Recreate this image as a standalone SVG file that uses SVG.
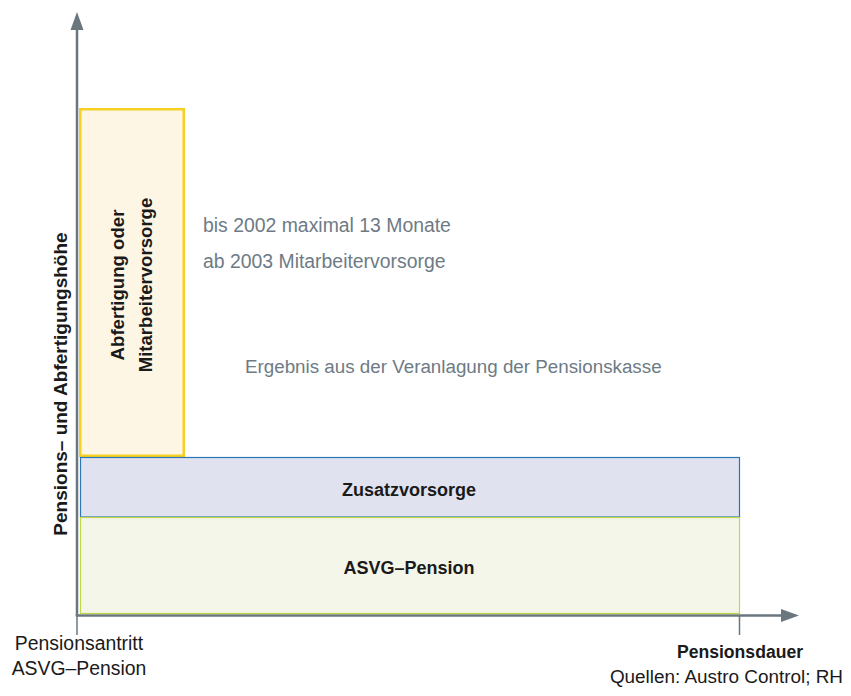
<svg xmlns="http://www.w3.org/2000/svg" width="851" height="696" viewBox="0 0 851 696">
<style>
.t{font-family:"Liberation Sans",Arial,sans-serif;fill:#1a1a1a}
.b{font-weight:bold}
.g{fill:#6e7b85}
.ax{stroke:#6b777f;fill:none}
</style>
<rect width="851" height="696" fill="#ffffff"/>
<g id="connectors">
<line class="ax" x1="77" y1="28" x2="77" y2="616" stroke-width="2.5"/>
<polygon points="77,12 70.5,30 83.5,30" fill="#6b777f"/>
<line class="ax" x1="77" y1="616" x2="77" y2="635" stroke-width="1.5"/>
<line class="ax" x1="75.8" y1="615.5" x2="783" y2="615.5" stroke-width="2.5"/>
<polygon points="799,615.5 781,609 781,622" fill="#6b777f"/>
<line class="ax" x1="739.5" y1="616" x2="739.5" y2="635" stroke-width="1.5"/>
</g>
<g id="abfertigung">
<rect x="80.25" y="109.25" width="103.5" height="346.5" fill="#fdf6e5" stroke="#f5d020" stroke-width="2.5"/>
<text class="t b" font-size="18.6" text-anchor="middle" transform="translate(123.5,285) rotate(-90)">Abfertigung oder</text>
<text class="t b" font-size="18.6" text-anchor="middle" transform="translate(151.5,285) rotate(-90)">Mitarbeitervorsorge</text>
</g>
<g id="zusatzvorsorge">
<rect x="80.5" y="457.5" width="659" height="59.5" fill="#e0e3ef" stroke="#2e75b6" stroke-width="1.2"/>
<text class="t b" x="409" y="496" font-size="18" text-anchor="middle">Zusatzvorsorge</text>
</g>
<g id="asvg">
<rect x="80.5" y="517.5" width="659" height="96" fill="#f3f6e9" stroke="#c4d64a" stroke-width="1.2"/>
<text class="t b" x="409" y="574" font-size="18" text-anchor="middle">ASVG–Pension</text>
</g>
<g id="notes">
<text class="t g" x="203" y="231.5" font-size="19.4">bis 2002 maximal 13 Monate</text>
<text class="t g" x="203" y="268" font-size="19.4">ab 2003 Mitarbeitervorsorge</text>
<text class="t g" x="245" y="373" font-size="18.8">Ergebnis aus der Veranlagung der Pensionskasse</text>
</g>
<g id="axis-labels">
<text class="t b" font-size="19" text-anchor="middle" transform="translate(66.5,384) rotate(-90)">Pensions– und Abfertigungshöhe</text>
<text class="t" x="79" y="650" font-size="19.4" text-anchor="middle">Pensionsantritt</text>
<text class="t" x="79" y="675" font-size="19.4" text-anchor="middle">ASVG–Pension</text>
<text class="t b" x="740" y="658" font-size="17.6" text-anchor="middle">Pensionsdauer</text>
<text class="t" x="843" y="683" font-size="18.9" text-anchor="end">Quellen: Austro Control; RH</text>
</g>
</svg>
